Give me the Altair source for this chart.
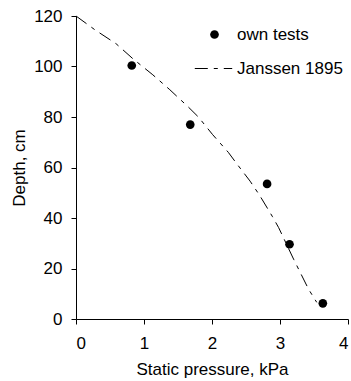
import altair as alt
import pandas as pd

# measured points ("own tests")
test_pressure = [0.82, 1.68, 2.81, 3.14, 3.63]
test_depth = [100.4, 77.0, 53.5, 29.6, 6.2]

# Janssen 1895 curve
jans_pressure = [0.0, 0.28, 0.59, 0.84, 1.13, 1.38, 1.65, 1.80, 2.01, 2.24, 2.35, 2.56, 2.70, 2.89, 2.98, 3.20, 3.42, 3.54]
jans_depth = [120.0, 114.5, 109.0, 103.0, 96.7, 90.8, 84.0, 80.0, 73.0, 66.0, 62.0, 54.6, 49.0, 40.5, 36.2, 23.7, 11.8, 6.6]

x_ticks = [0, 1, 2, 3, 4]
y_ticks = [0, 20, 40, 60, 80, 100, 120]

pts = pd.DataFrame({"p": test_pressure, "d": test_depth, "series": "own tests"})
crv = pd.DataFrame({"p": jans_pressure, "d": jans_depth, "series": "Janssen 1895",
                    "o": list(range(len(jans_pressure)))})

FONT = "Liberation Sans"
FS = 17

xenc = alt.X("p:Q", scale=alt.Scale(domain=[0, 4], nice=False),
             axis=alt.Axis(values=x_ticks, title="Static pressure, kPa", format="d",
                           titlePadding=10))
yenc = alt.Y("d:Q", scale=alt.Scale(domain=[0, 120], nice=False),
             axis=alt.Axis(values=y_ticks, title="Depth, cm", format="d",
                           titlePadding=5))

line = alt.Chart(crv).mark_line(color="black", strokeWidth=1).encode(
    x=xenc, y=yenc, order="o:Q",
    strokeDash=alt.StrokeDash("series:N",
        scale=alt.Scale(domain=["Janssen 1895"], range=[[13, 6, 4, 6]]),
        legend=alt.Legend(title=None, orient="none", legendX=118, legendY=33,
                          symbolType="stroke", symbolSize=1400, symbolStrokeWidth=1,
                          symbolStrokeColor="black", labelFontSize=FS, labelFont=FONT,
                          labelOffset=4, labelColor="black")),
)

points = alt.Chart(pts).mark_point(filled=True, color="black", size=75, opacity=1).encode(
    x=xenc, y=yenc,
    shape=alt.Shape("series:N",
        scale=alt.Scale(domain=["own tests"], range=["circle"]),
        legend=alt.Legend(title=None, orient="none", legendX=130, legendY=10,
                          symbolSize=75, symbolFillColor="black", symbolStrokeColor="black",
                          symbolOpacity=1, labelFontSize=FS, labelFont=FONT,
                          labelOffset=14, labelColor="black")),
)

chart = alt.layer(line, points).properties(
    width=272, height=303,
    autosize=alt.AutoSizeParams(type="none"),
    padding={"left": 76, "top": 16, "right": 3, "bottom": 62},
).configure_view(stroke=None).configure_axis(
    grid=False, domainColor="black", tickColor="black", tickSize=5, domainWidth=1,
    labelFont=FONT, titleFont=FONT, labelFontSize=FS, titleFontSize=FS,
    titleFontWeight="normal", labelColor="black", titleColor="black",
).configure_axisX(labelPadding=11).configure_axisY(labelPadding=9)

chart.save("out.html", embed_options={"renderer": "svg", "actions": False})
